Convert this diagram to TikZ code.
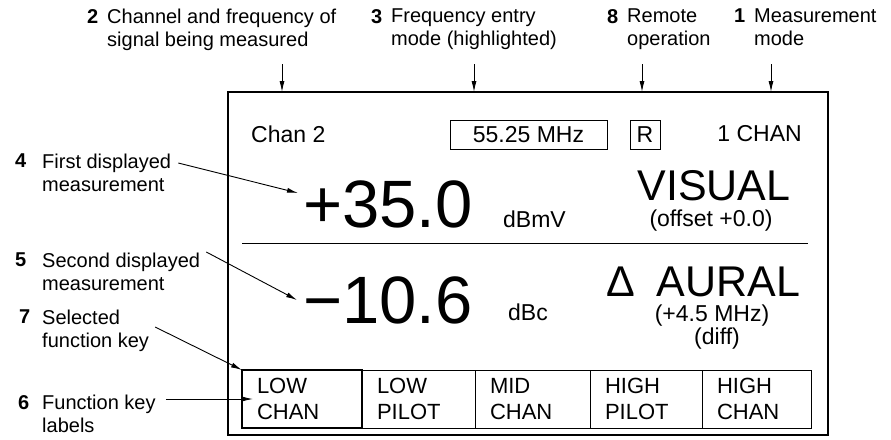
\documentclass[tikz,border=0pt]{standalone}
\usepackage{fontspec}
\setmainfont{Liberation Sans}
\usetikzlibrary{arrows.meta,positioning}

\begin{document}
\begin{tikzpicture}[
  x=1pt, y=-1pt,
  num/.style={font=\fontsize{20}{23}\selectfont\bfseries, inner sep=0pt, anchor=north west},
  lab/.style={font=\fontsize{20}{23}\selectfont, align=left, inner sep=0pt, anchor=north west},
  arr/.style={-{Latex[length=11pt,width=5pt]}, line width=0.9pt},
  screen/.style={draw, line width=1.4pt, minimum width=600pt, minimum height=343pt, anchor=north west, inner sep=0pt, outer sep=0pt},
  rd/.style={font=\fontsize{23}{26}\selectfont, inner sep=0pt},
  rdbox/.style={draw, line width=0.8pt, minimum height=29pt, inner sep=0pt, outer sep=0pt, anchor=north west, font=\fontsize{23}{26}\selectfont},
  big/.style={font=\fontsize{67}{70}\selectfont, inner sep=0pt, anchor=base west},
  mode/.style={font=\fontsize{43}{46}\selectfont, inner sep=0pt, anchor=base},
  note/.style={font=\fontsize{23}{23}\selectfont, inner sep=0pt, anchor=base},
  fkey/.style={draw, line width=0.8pt, minimum height=58pt, inner xsep=15pt, inner ysep=0pt, outer sep=0pt, align=left, font=\fontsize{22}{26}\selectfont},
  selkey/.style={fkey, line width=2.8pt}
]
\useasboundingbox (0,0) rectangle (891,439);

% display
\node[screen] (screen) at (228,92) {};
\node[rd, anchor=base west] (chan) at (251,142) {Chan 2};
\node[rdbox, minimum width=157pt] (freq) at (450,120) {55.25 MHz};
\node[rdbox, minimum width=30pt] (remote) at (630,120) {R};
\node[rd, anchor=base east] (mcount) at (802,141) {1 CHAN};

\node[big] (val1) at (303,227) {+35.0};
\node[rd, anchor=base west] (unit1) at (503,227) {dBmV};
\node[mode] (mode1) at (714,200) {VISUAL};
\node[note] (off1) at (711,226) {(offset +0.0)};
\draw[line width=0.8pt] (242,243) -- (808,243);

\node[big] (val2) at (303,323) {−10.6};
\node[rd, anchor=base west] (unit2) at (508,320) {dBc};
\node[mode, anchor=base west] (mode2) at (606,296) {Δ\hspace{22pt}AURAL};
\node[note] (off2) at (712,321) {(+4.5 MHz)};
\node[note] (off3) at (717,344) {(diff)};

% function keys
\node[selkey, text width=90pt, anchor=north west] (k1) at (242,370) {LOW\\CHAN};
\node[fkey, text width=83pt, right=0pt of k1] (k2) {LOW\\PILOT};
\node[fkey, text width=85pt, right=0pt of k2] (k3) {MID\\CHAN};
\node[fkey, text width=82pt, right=0pt of k3] (k4) {HIGH\\PILOT};
\node[fkey, text width=79pt, right=0pt of k4] (k5) {HIGH\\CHAN};

% callouts
\node[num] (n2) at (87,9) {2};
\node[lab] (t2) at (107,9) {Channel and frequency of\\signal being measured};
\node[num] (n3) at (371,9) {3};
\node[lab] (t3) at (391,9) {Frequency entry\\mode (highlighted)};
\node[num] (n8) at (607,9) {8};
\node[lab] (t8) at (627,9) {Remote\\operation};
\node[num] (n1) at (734,9) {1};
\node[lab] (t1) at (754,9) {Measurement\\mode};
\node[num] (n4) at (15,154) {4};
\node[lab] (t4) at (42,154) {First displayed\\measurement};
\node[num] (n5) at (15,253) {5};
\node[lab] (t5) at (42,253) {Second displayed\\measurement};
\node[num] (n7) at (19,310) {7};
\node[lab] (t7) at (42,310) {Selected\\function key};
\node[num] (n6) at (18,395) {6};
\node[lab] (t6) at (42,395) {Function key\\labels};

\coordinate (a2) at (282,64);
\coordinate (a3) at (474,64);
\coordinate (a8) at (642,64);
\coordinate (a1) at (771,64);
\coordinate (p4) at (298,193);
\coordinate (p5) at (297,300);

\draw[arr] (a2) -- (a2 |- screen.north);
\draw[arr] (a3) -- (a3 |- screen.north);
\draw[arr] (a8) -- (a8 |- screen.north);
\draw[arr] (a1) -- (a1 |- screen.north);
\draw[arr] ([shift={(7,9)}]t4.north east) -- (p4);
\draw[arr] ([shift={(6,-1)}]t5.north east) -- (p5);
\draw[arr] ([shift={(6,17)}]t7.north east) -- (k1.north west);
\draw[arr] ([shift={(10,4)}]t6.north east) -- ([xshift=11pt]k1.west);
\end{tikzpicture}
\end{document}
